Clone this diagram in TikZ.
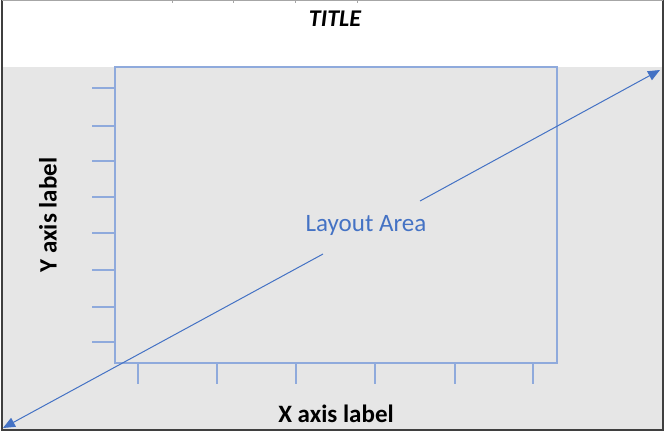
\documentclass[tikz,border=0pt]{standalone}
\usepackage{fontspec}
\setmainfont{Carlito}
\usetikzlibrary{arrows.meta}
\definecolor{plotgray}{HTML}{E6E6E6}
\definecolor{framelt}{HTML}{8FAADC}
\definecolor{arrowblue}{HTML}{4472C4}
\definecolor{framedark}{HTML}{3F3F3F}
\tikzset{
  axisline/.style={draw=framelt, line width=2pt},
  tickmark/.style={draw=framelt, line width=1.4pt},
  majortick/.style={draw=framelt, line width=2.4pt},
  diag/.style={draw=arrowblue, line width=1pt},
  axlabel/.style={font=\fontsize{25}{28}\selectfont\bfseries, text=black, inner sep=0pt},
}
\begin{document}
\begin{tikzpicture}[x=1pt,y=-1pt]
\useasboundingbox (0,0) rectangle (666,432);
\fill[white] (0,0) rectangle (666,432);
% gray plot background
\fill[plotgray] (3,67) rectangle (662,429);
% outer frame
\draw[framedark, line width=1.5pt] (2,0) -- (2,430) -- (663,430) -- (663,0);
\draw[gray!70, line width=0.6pt] (2,0.3) -- (663,0.3);
\foreach \gx in {172,233,295,357} \draw[gray!70, line width=0.8pt] (\gx,0) -- (\gx,3);
% title
\node[font=\fontsize{24}{28}\selectfont\bfseries\itshape, inner sep=0pt] (title) at (335,19) {TITLE};
% layout rectangle
\draw[axisline] (115,67) rectangle (557,363);
% y ticks
\foreach \ty in {126,161,197,233,307,342} \draw[tickmark] (92,\ty) -- (115,\ty);
\foreach \ty in {88,270} \draw[majortick] (92,\ty) -- (115,\ty);
% x ticks
\foreach \tx in {138,217,296,455,533} \draw[tickmark] (\tx,363) -- (\tx,384);
\draw[majortick] (375,363) -- (375,384);
% diagonal arrow
\coordinate (p1) at (3,428);
\coordinate (p2) at (660,70);
\coordinate (g1) at (323,254);
\coordinate (g2) at (420,201);
\draw[diag, {Triangle[length=12pt,width=10pt]}-] (p1) -- (g1);
\draw[diag, -{Triangle[length=12pt,width=10pt]}] (g2) -- (p2);
\node[font=\fontsize{25}{28}\selectfont, text=arrowblue, inner sep=0pt] (layout) at (366,225) {Layout Area};
% axis labels
\node[axlabel] (xlab) at (336,414) {X axis label};
\node[axlabel, rotate=90] (ylab) at (48,215) {Y axis label};
\end{tikzpicture}
\end{document}
